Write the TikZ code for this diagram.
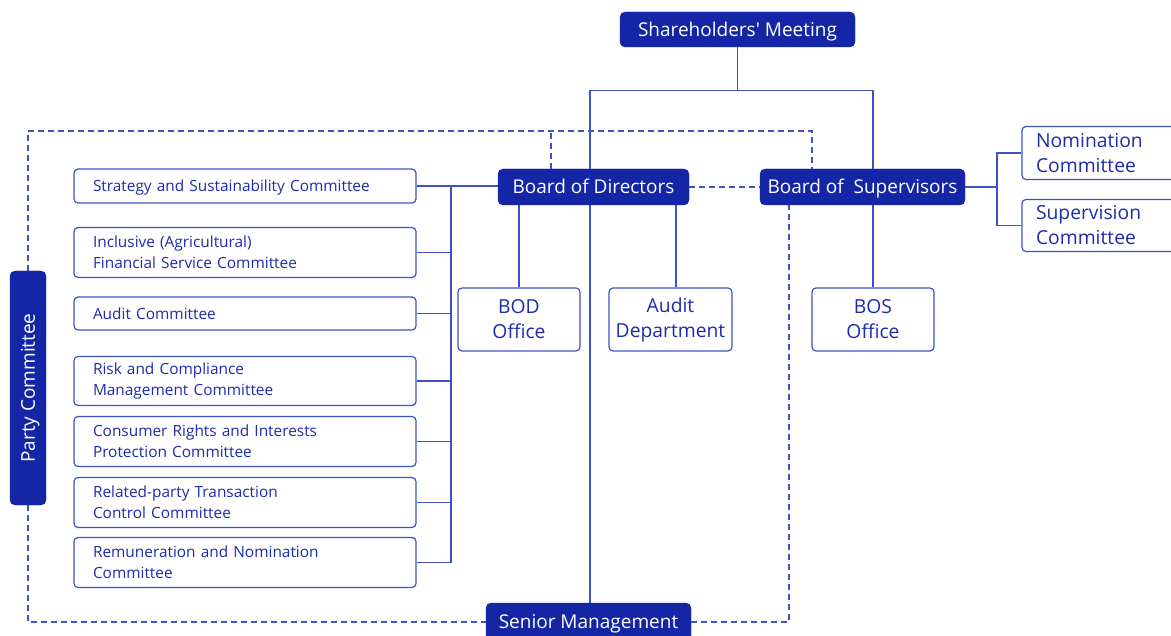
\documentclass[tikz,border=0pt]{standalone}
\usepackage{fontspec}
\setmainfont{Open Sans}
\usetikzlibrary{calc}
\definecolor{navy}{RGB}{20,38,166}
\definecolor{lineblue}{RGB}{62,82,196}
\definecolor{textblue}{RGB}{30,44,172}
\begin{document}
\begin{tikzpicture}[x=1pt,y=-1pt,
  filled/.style={fill=navy, draw=navy, rounded corners=5pt, text=white, font=\fontsize{19}{22}\selectfont, inner sep=0pt, text height=14.5pt, text depth=1pt},
  comm/.style={draw=lineblue, line width=1.2pt, rounded corners=4pt, fill=white, text=textblue, font=\fontsize{15.4}{21}\selectfont, text width=304pt, align=left, inner xsep=19pt, inner ysep=0pt},
  oneline/.style={text height=11.8pt, text depth=0.6pt},
  office/.style={draw=lineblue, line width=1.2pt, rounded corners=4pt, fill=white, text=textblue, font=\fontsize{19.3}{25}\selectfont, align=center, inner sep=0pt, minimum width=122pt, minimum height=63pt},
  side/.style={draw=lineblue, line width=1.2pt, rounded corners=4pt, fill=white, text=textblue, font=\fontsize{19.3}{25}\selectfont, align=left, text width=135pt, inner xsep=14pt, inner ysep=0pt},
  conn/.style={draw=lineblue, line width=1.3pt},
  dashline/.style={draw=lineblue, line width=1.2pt, dash pattern=on 6pt off 4pt}]
\useasboundingbox (0,0) rectangle (1171,636);

% top level
\node[filled, minimum width=235pt, minimum height=35pt] (sh) at (737.5,29.5) {Shareholders\textquotesingle{} Meeting};
\node[filled, minimum width=191pt, minimum height=36pt] (bod) at (593.5,187) {Board of Directors};
\node[filled, minimum width=205pt, minimum height=36pt] (bos) at (862.5,187) {Board of\ \ Supervisors};
\node[filled, minimum width=205pt, minimum height=38pt] (sm) at (588.5,622) {Senior Management};
\node[filled, rotate=90, minimum width=234pt, minimum height=36pt] (party) at (28,388) {Party Committee};

% committees
\node[comm, oneline, minimum height=34pt] (c1) at (245,186) {Strategy and Sustainability Committee};
\node[comm, minimum height=50pt] (c2) at (245,252.5) {Inclusive (Agricultural)\\Financial Service Committee};
\node[comm, oneline, minimum height=33pt] (c3) at (245,313.5) {Audit Committee};
\node[comm, minimum height=49pt] (c4) at (245,381) {Risk and Compliance\\Management Committee};
\node[comm, minimum height=50pt] (c5) at (245,441.5) {Consumer Rights and Interests\\Protection Committee};
\node[comm, minimum height=50pt] (c6) at (245,502.5) {Related-party Transaction\\Control Committee};
\node[comm, minimum height=50pt] (c7) at (245,562.5) {Remuneration and Nomination\\Committee};

% offices
\node[office] (bodo) at (519,319.5) {BOD\\Office};
\node[office, minimum width=123pt] (aud) at (670.5,319.5) {Audit\\Department};
\node[office] (boso) at (873,319.5) {BOS\\Office};

% supervisors' committees
\node[side, minimum height=53pt] (nom) at (1103.5,153) {Nomination\\Committee};
\node[side, minimum height=52pt] (sup) at (1103.5,225.5) {Supervision\\Committee};

% solid connectors
\draw[conn] (sh.south) -- ++(0,43) coordinate (tj);
\draw[conn] ([xshift=-3.5pt]bod.north) |- (tj) -| ([xshift=10.5pt]bos.north);
\draw[conn] ([xshift=-3.5pt]bod.south) -- ([xshift=-3.5pt]bod.south |- sm.north);
\draw[conn] (bodo.north) -- (bodo.north |- bod.south);
\draw[conn] ([xshift=5.5pt]aud.north) -- ([xshift=5.5pt]aud.north |- bod.south);
\draw[conn] (boso.north) -- (boso.north |- bos.south);

\coordinate (bus) at (451,0);
\draw[conn] (c1.east) -- (c1.east -| bod.west);
\draw[conn] (bus |- c1.east) -- (bus |- c7.east);
\foreach \c in {c2,c3,c4,c5,c6,c7} \draw[conn] (\c.east) -- (bus |- \c.east);

\coordinate (rb) at (997,0);
\draw[conn] (bos.east) -- (rb |- bos.east);
\draw[conn] (nom.west) -- (rb |- nom.west) -- (rb |- sup.west) -- (sup.west);

% dashed connectors
\coordinate (dtop) at (0,131);
\coordinate (bosdn) at ([xshift=-50.5pt]bos.north);
\coordinate (bossd) at ([xshift=-73.5pt]bos.south);
\coordinate (boddn) at ([xshift=-42.5pt]bod.north);
\draw[dashline] (party.east) |- (dtop -| bosdn) -- (bosdn);
\draw[dashline] (boddn) -- (boddn |- dtop);
\draw[dashline] (party.west) |- (sm.west);
\draw[dashline] (sm.east) -| (bossd);
\draw[dashline] (bod.east) -- (bos.west);
\end{tikzpicture}
\end{document}
